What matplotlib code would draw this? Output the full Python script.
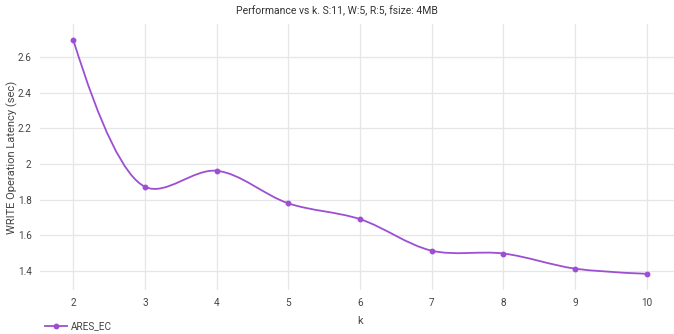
import matplotlib
matplotlib.use('Agg')
import matplotlib.pyplot as plt
import numpy as np
from matplotlib.path import Path
from matplotlib.patches import PathPatch

# === DATA ===
k_values = [2, 3, 4, 5, 6, 7, 8, 9, 10]
write_latency = [2.697, 1.872, 1.962, 1.779, 1.690, 1.513, 1.497, 1.412, 1.383]
series_name = 'ARES_EC'

# === STYLE ===
LINE_COLOR = '#9d4fd3'
GRID_COLOR = '#e6e6e6'
TEXT_COLOR = '#444444'
W, H = 674, 334

plt.rcParams['font.family'] = ['Roboto', 'DejaVu Sans']

fig = plt.figure(figsize=(W / 100, H / 100), dpi=100)
ax = fig.add_axes([40 / W, (H - 290) / H, 634 / W, 266 / H])
ax.set_xlim(1.535, 10.38)
ax.set_ylim(1.292, 2.787)

for s in ax.spines.values():
    s.set_visible(False)
ax.set_xticks(k_values)
ax.set_yticks([1.4, 1.6, 1.8, 2.0, 2.2, 2.4, 2.6])
ax.set_yticklabels(['1.4', '1.6', '1.8', '2', '2.2', '2.4', '2.6'])
ax.tick_params(length=0, labelsize=7.2, colors=TEXT_COLOR, pad=6)
ax.grid(True, color=GRID_COLOR, linewidth=0.9)
ax.set_axisbelow(True)

ax.set_xlabel('k', fontsize=8, color=TEXT_COLOR)
ax.set_ylabel('WRITE Operation Latency (sec)', fontsize=8, color=TEXT_COLOR)
ax.xaxis.set_label_coords(0.5 + 3 / 634, -(321 - 290) / 266)
ax.yaxis.set_label_coords((12 - 40) / 634, 0.5)
ax.xaxis.label.set_va('center')
ax.yaxis.label.set_va('center')
fig.text(0.5, 1 - 11 / H, 'Performance vs k. S:11, W:5, R:5, fsize: 4MB',
         ha='center', va='center', fontsize=7.5, color='#333333')


# === Spline through the points (Catmull-Rom style, smoothing 1) ===
def control_points(p0, p1, p2, smooth=1.0):
    d1 = p0 - p1
    d2 = p2 - p1
    d1a = np.hypot(*d1) ** 0.5
    d2a = np.hypot(*d2) ** 0.5
    num = (d2a * d2a * d1 - d1a * d1a * d2) * smooth
    den1 = 3 * d2a * (d1a + d2a)
    den2 = 3 * d1a * (d1a + d2a)
    return p1 + num / den1, p1 - num / den2


pts = ax.transData.transform(np.column_stack([k_values, write_latency]))
ctrl = [control_points(pts[i - 1], pts[i], pts[i + 1]) for i in range(1, len(pts) - 1)]

verts = [pts[0], ctrl[0][0], pts[1]]
codes = [Path.MOVETO, Path.CURVE3, Path.CURVE3]
for i in range(1, len(pts) - 2):
    verts += [ctrl[i - 1][1], ctrl[i][0], pts[i + 1]]
    codes += [Path.CURVE4] * 3
verts += [ctrl[-1][1], pts[-1]]
codes += [Path.CURVE3] * 2

data_verts = ax.transData.inverted().transform(np.array(verts))
ax.add_patch(PathPatch(Path(data_verts, codes), facecolor='none',
                       edgecolor=LINE_COLOR, linewidth=1.3, zorder=3))
ax.plot(k_values, write_latency, 'o', color=LINE_COLOR, markersize=3.2, zorder=4)

# legend below the plot, bottom-left
handle, = ax.plot([], [], '-o', color=LINE_COLOR, markersize=3.2, linewidth=1.3)
fig.legend([handle], [series_name], loc='center left',
           bbox_to_anchor=(36 / W, 1 - 326 / H), frameon=False,
           fontsize=7.2, handlelength=2.2, handletextpad=0.4, labelcolor=TEXT_COLOR)

fig.savefig('out.png', dpi=100)
